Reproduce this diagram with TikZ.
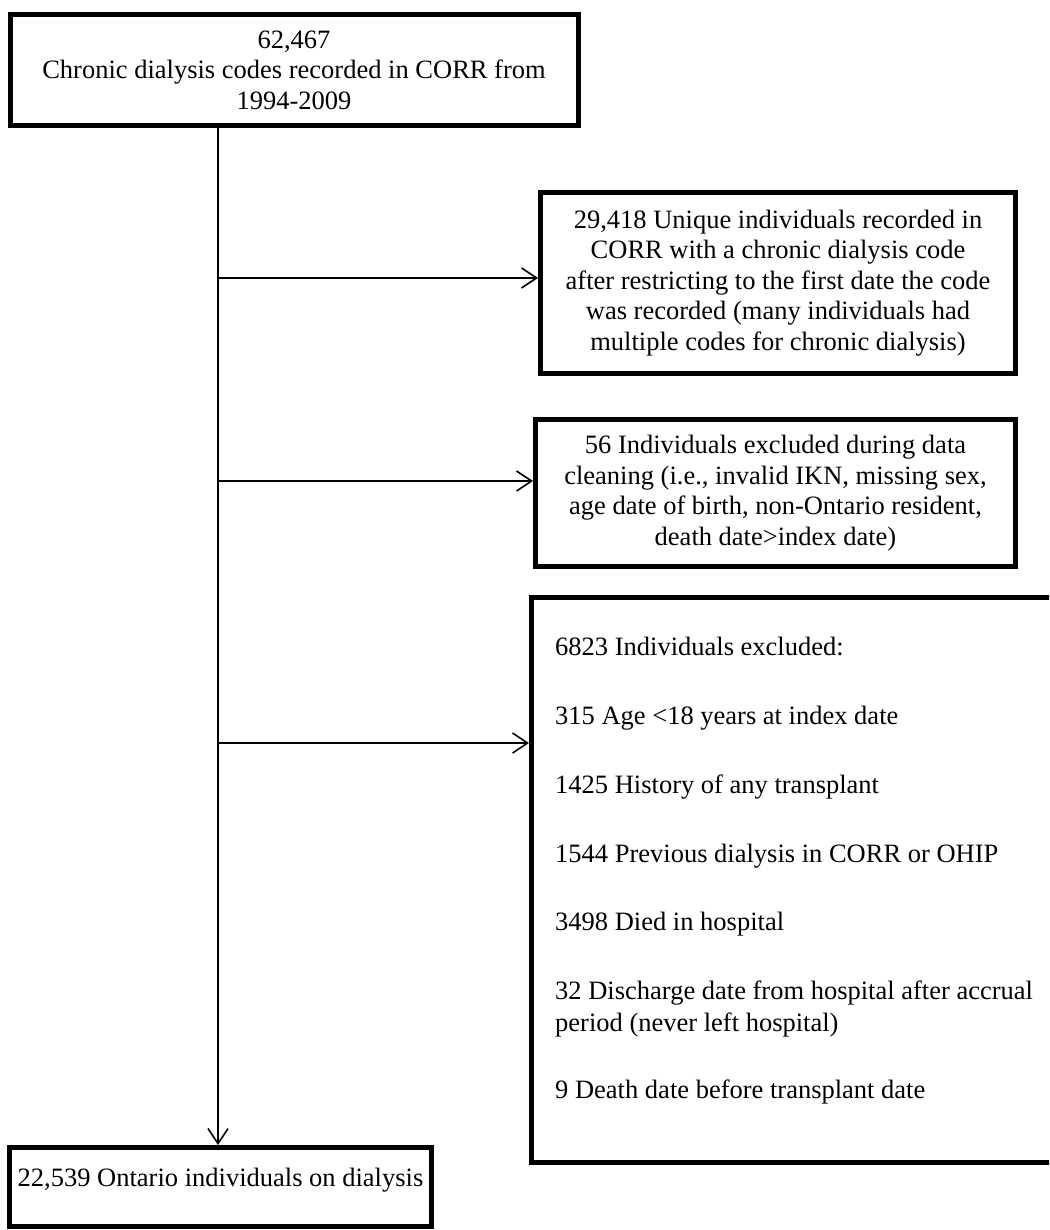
\documentclass[tikz,border=0pt]{standalone}
\usepackage{fontspec}
\setmainfont{Liberation Serif}
\usetikzlibrary{arrows.meta}
\begin{document}
\begin{tikzpicture}[x=1pt,y=-1pt,
  box/.style={draw, line width=5pt, inner sep=0pt, align=center,
    font=\fontsize{26.5}{30.5}\selectfont},
  conn/.style={line width=1.6pt,
    -{Straight Barb[length=15pt,width=20pt,line width=1.6pt]}},
  lbl/.style={anchor=base west, inner sep=0pt,
    font=\fontsize{26.5}{32}\selectfont}]
\useasboundingbox (0,0) rectangle (1049,1230);
\fill[white] (0,0) rectangle (1049,1230);
\clip (0,0) rectangle (1049,1230);

% boxes
\node[box, minimum width=568pt, minimum height=111pt] (top) at (294,70)
  {62,467\\Chronic dialysis codes recorded in CORR from\\1994-2009};
\node[box, minimum width=475pt, minimum height=181pt] (box1) at (778,283)
  {29,418 Unique individuals recorded in\\CORR with a chronic dialysis code\\after restricting to the first date the code\\was recorded (many individuals had\\multiple codes for chronic dialysis)};
\node[box, minimum width=480pt, minimum height=147pt] (box2) at (775.5,493)
  {56 Individuals excluded during data\\cleaning (i.e., invalid IKN, missing sex,\\age date of birth, non-Ontario resident,\\death date>index date)};
\node[box, minimum width=538.5pt, minimum height=564.5pt] (box3) at (800.75,879.75) {};
\node[box, minimum width=422pt, minimum height=79pt, text height=20pt, text depth=22pt] (bottom) at (220.5,1187)
  {22,539 Ontario individuals on dialysis};

% excluded list
\node[lbl] (x0) at (555,655) {6823 Individuals excluded:};
\node[lbl] (x1) at (555,724) {315 Age <18 years at index date};
\node[lbl] (x2) at (555,793) {1425 History of any transplant};
\node[lbl] (x3) at (555,862) {1544 Previous dialysis in CORR or OHIP};
\node[lbl] (x4) at (555,930) {3498 Died in hospital};
\node[lbl] (x5) at (555,999) {32 Discharge date from hospital after accrual};
\node[lbl] (x6) at (555,1031) {period (never left hospital)};
\node[lbl] (x7) at (555,1098) {9 Death date before transplant date};

% connectors
\coordinate (spine) at (218,0);
\coordinate (j1) at (218,278);
\coordinate (j2) at (218,481);
\coordinate (j3) at (218,743);
\draw[conn] (top.south -| spine) -- (bottom.north -| spine);
\draw[conn] (j1) -- (j1 -| box1.west);
\draw[conn] (j2) -- (j2 -| box2.west);
\draw[conn] (j3) -- (j3 -| box3.west);
\end{tikzpicture}
\end{document}
